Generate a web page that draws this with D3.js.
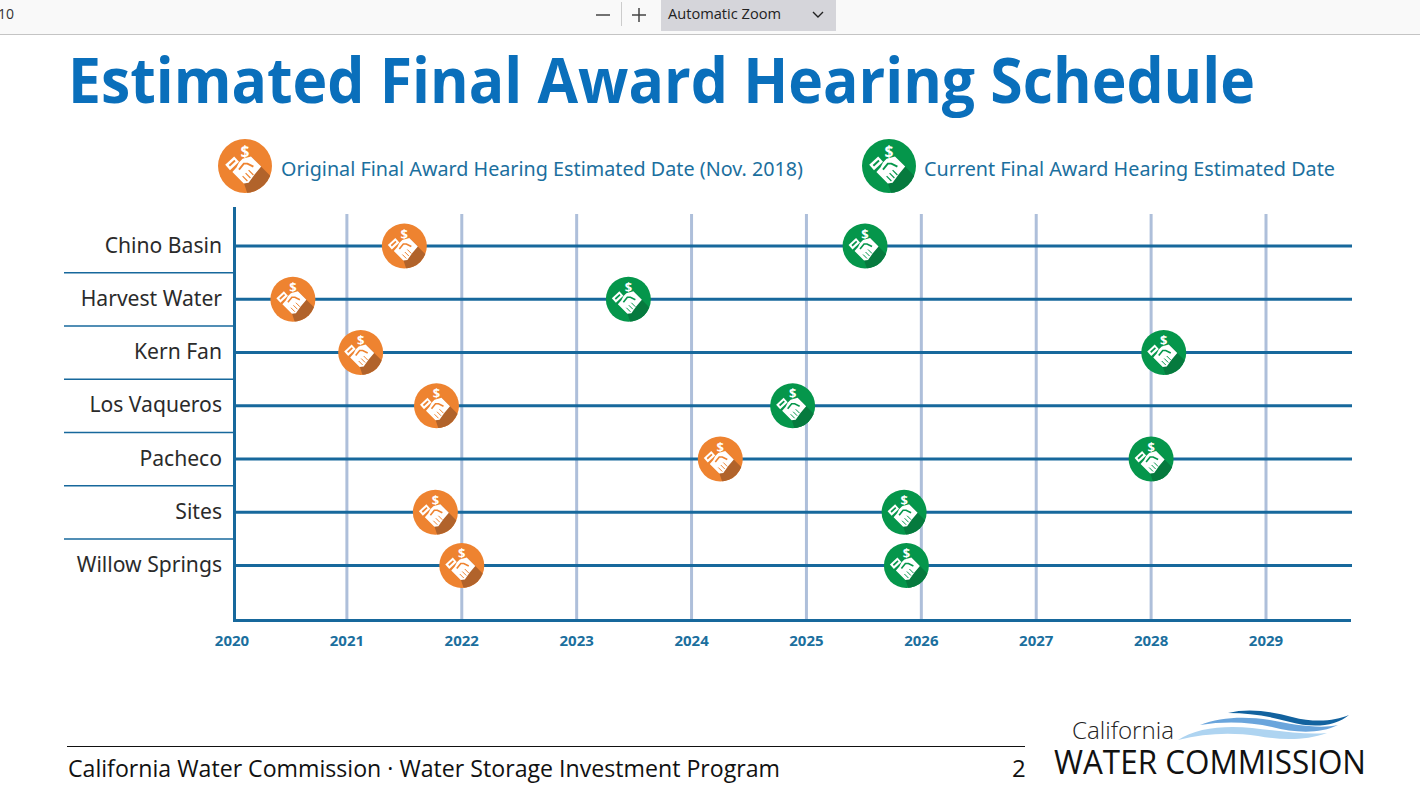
<!DOCTYPE html>
<html lang="en">
<head>
<meta charset="UTF-8">
<title>Estimated Final Award Hearing Schedule</title>
<script src="https://cdn.jsdelivr.net/npm/d3@7"></script>
<style>
    html, body { margin: 0; padding: 0; background: #fff; overflow: hidden; }
    svg { display: block; }
    text { font-family: "Open Sans", sans-serif; }
    .label { font-family: "Noto Sans", sans-serif; fill: #2b2b2b; font-size: 22px; text-anchor: end; }
    .legend { font-family: "Noto Sans", sans-serif; fill: #1b6f9e; font-size: 20px; }
    .tick-label { font-family: "Noto Sans", sans-serif; fill: #1b6f9e; font-size: 15px; font-weight: 700; text-anchor: middle; }
</style>
</head>
<body>
<svg id="chart" width="1420" height="798"></svg>
<script>
    const projects = ['Chino Basin', 'Harvest Water', 'Kern Fan', 'Los Vaqueros', 'Pacheco', 'Sites', 'Willow Springs'];
    const originalDates = [2021.5, 2020.53, 2021.12, 2021.78, 2024.25, 2021.77, 2022.0];
    const currentDates = [2025.51, 2023.45, 2028.11, 2024.88, 2028.0, 2025.85, 2025.87];
    const years = [2020, 2021, 2022, 2023, 2024, 2025, 2026, 2027, 2028, 2029];

    const svg = d3.select('#chart');
    const blue = '#17689c';

    let x = d3.scaleLinear().domain([2020, 2029]).range([232, 1266]);
    let y = d3.scalePoint().domain(projects).range([246, 565.5]);
    let step = y.step();

    // pdf viewer toolbar
    svg.append('rect').attr('width', 1420).attr('height', 34).attr('fill', '#f9f9f9');
    svg.append('line').attr('x1', 0).attr('x2', 1420).attr('y1', 34.5).attr('y2', 34.5).attr('stroke', '#c4c4c4');
    svg.append('rect').attr('x', 661).attr('width', 175).attr('height', 31).attr('fill', '#d5d5da');
    svg.append('text').attr('x', -2).attr('y', 19).attr('font-size', 14).attr('fill', '#333').text('10');
    svg.append('line').attr('x1', 596).attr('x2', 610).attr('y1', 15).attr('y2', 15).attr('stroke', '#444').attr('stroke-width', 1.5);
    svg.append('line').attr('x1', 621.5).attr('x2', 621.5).attr('y1', 2).attr('y2', 26).attr('stroke', '#ccc');
    svg.append('path').attr('d', 'M632,15H646M639,8V22').attr('stroke', '#444').attr('stroke-width', 1.5);
    svg.append('text').attr('x', 668).attr('y', 19).attr('font-size', 14).attr('fill', '#222')
        .attr('textLength', 113).attr('lengthAdjust', 'spacingAndGlyphs').text('Automatic Zoom');
    svg.append('path').attr('d', 'M813,12L818,17L823,12').attr('fill', 'none').attr('stroke', '#222').attr('stroke-width', 1.4);

    // title
    svg.append('text').attr('x', 68).attr('y', 103)
        .attr('font-size', 62).attr('font-weight', 700).attr('fill', '#0a6fbb')
        .attr('textLength', 1187).attr('lengthAdjust', 'spacingAndGlyphs')
        .text('Estimated Final Award Hearing Schedule');

    // icon, drawn around 0,0 with radius 22.5
    function drawIcon(g, fill, shade, r) {
        let k = r / 22.5;
        let id = 'clip' + (drawIcon.n = (drawIcon.n || 0) + 1);
        let icon = g.append('g').attr('transform', 'scale(' + k + ')');
        icon.append('clipPath').attr('id', id).append('circle').attr('r', 22.5);
        icon.append('circle').attr('r', 22.5).attr('fill', fill);
        icon.append('path').attr('clip-path', 'url(#' + id + ')').attr('fill', shade)
            .attr('d', 'M5,-8L25,12L25,30L3,26L-1,14Z');
        // cuff
        icon.append('path').attr('fill', '#fff')
            .attr('d', 'M-16.5,-1L-9,-8L-5,-3.5L-12.5,3.5Z');
        icon.append('path').attr('fill', fill)
            .attr('d', 'M-13.6,-0.9L-8.9,-5.3L-7.8,-4L-12.5,0.4Z');
        // hands
        icon.append('path').attr('fill', '#fff')
            .attr('d', 'M-5,-3L-2,-6L5,-8L13.5,0.5L8,7L3,14L-1,14.5L-10.5,5L-7,1Z');
        icon.append('path').attr('fill', 'none').attr('stroke', fill).attr('stroke-width', 1.6)
            .attr('d', 'M-5,3L-1,-2L2,-2L7,0.5');
        icon.append('path').attr('fill', 'none').attr('stroke', fill).attr('stroke-width', 1)
            .attr('d', 'M3,3.5L7,7.5M0.5,6L4.5,10M-2,8.5L2,12.5');
        icon.append('text').attr('x', 0).attr('y', -7.5).attr('text-anchor', 'middle')
            .attr('font-size', 13).attr('font-weight', 700).attr('fill', '#fff')
            .attr('font-family', '"Noto Sans", sans-serif').text('$');
    }

    const orange = '#ee8330', orangeShade = '#b1632b';
    const green = '#05964b', greenShade = '#067a3e';

    // legend
    drawIcon(svg.append('g').attr('transform', 'translate(245,166)'), orange, orangeShade, 27);
    svg.append('text').attr('class', 'legend').attr('x', 281).attr('y', 176)
        .attr('textLength', 522).attr('lengthAdjust', 'spacingAndGlyphs')
        .text('Original Final Award Hearing Estimated Date (Nov. 2018)');
    drawIcon(svg.append('g').attr('transform', 'translate(889,166)'), green, greenShade, 27);
    svg.append('text').attr('class', 'legend').attr('x', 924).attr('y', 176)
        .attr('textLength', 411).attr('lengthAdjust', 'spacingAndGlyphs')
        .text('Current Final Award Hearing Estimated Date');

    // year grid
    svg.selectAll('.grid').data(years.slice(1)).enter().append('line')
        .attr('x1', d => x(d)).attr('x2', d => x(d))
        .attr('y1', 214).attr('y2', 620)
        .attr('stroke', '#aebfda').attr('stroke-width', 3);

    svg.selectAll('.tick-label').data(years).enter().append('text')
        .attr('class', 'tick-label')
        .attr('x', d => x(d)).attr('y', 646)
        .text(d => d);

    // rows
    let row = svg.selectAll('.row').data(projects).enter().append('g')
        .attr('transform', d => 'translate(0,' + y(d) + ')');

    row.append('line').attr('x1', 234).attr('x2', 1352)
        .attr('stroke', blue).attr('stroke-width', 3);

    row.append('text').attr('class', 'label')
        .attr('transform', 'translate(222,-1) scale(0.96,1)')
        .attr('dy', '.35em')
        .text(d => d);

    // row separators
    svg.selectAll('.sep').data(projects.slice(0, -1)).enter().append('line')
        .attr('x1', 64).attr('x2', 234)
        .attr('y1', d => y(d) + step / 2).attr('y2', d => y(d) + step / 2)
        .attr('stroke', blue).attr('stroke-width', 1.5);

    // axes
    svg.append('path').attr('d', 'M234.5,207V620.5H1351')
        .attr('fill', 'none').attr('stroke', blue).attr('stroke-width', 3);

    // markers
    projects.forEach((p, i) => {
        drawIcon(svg.append('g').attr('transform', 'translate(' + x(originalDates[i]) + ',' + y(p) + ')'), orange, orangeShade, 22.5);
        drawIcon(svg.append('g').attr('transform', 'translate(' + x(currentDates[i]) + ',' + y(p) + ')'), green, greenShade, 22.5);
    });

    // footer
    svg.append('line').attr('x1', 67).attr('x2', 1025).attr('y1', 746.5).attr('y2', 746.5).attr('stroke', '#111');
    svg.append('text').attr('x', 68).attr('y', 777).attr('font-size', 24).attr('fill', '#111')
        .attr('textLength', 712).attr('lengthAdjust', 'spacingAndGlyphs')
        .text('California Water Commission · Water Storage Investment Program');
    svg.append('text').attr('x', 1012).attr('y', 777).attr('font-size', 24).attr('fill', '#111').text('2');

    // logo
    let logo = svg.append('g');
    logo.append('path').attr('fill', '#aed4f1')
        .attr('d', 'M1178,740C1195,728 1225,725 1252,728C1280,731 1305,735 1327,733C1305,741 1280,740 1258,736C1232,732 1205,733 1178,740Z');
    logo.append('path').attr('fill', '#6aa5dc')
        .attr('d', 'M1200,725C1220,717 1245,716 1270,720C1295,725 1320,729 1338,725C1320,734 1295,733 1272,727C1250,722 1225,721 1200,725Z');
    logo.append('path').attr('fill', '#12629f')
        .attr('d', 'M1228,713C1248,708 1270,711 1292,717C1315,723 1335,721 1349,715C1335,727 1312,728 1290,722C1268,716 1250,713 1228,713Z');
    logo.append('text').attr('x', 1072).attr('y', 739).attr('font-family', 'Lato, sans-serif').attr('font-weight', 300)
        .attr('font-size', 24).attr('fill', '#222').attr('textLength', 102).attr('lengthAdjust', 'spacingAndGlyphs').text('California');
    logo.append('text').attr('x', 1054).attr('y', 774).attr('font-family', 'Lato, sans-serif').attr('font-weight', 400)
        .attr('font-size', 32).attr('fill', '#111').attr('textLength', 312).attr('lengthAdjust', 'spacingAndGlyphs').text('WATER COMMISSION');
</script>
</body>
</html>
